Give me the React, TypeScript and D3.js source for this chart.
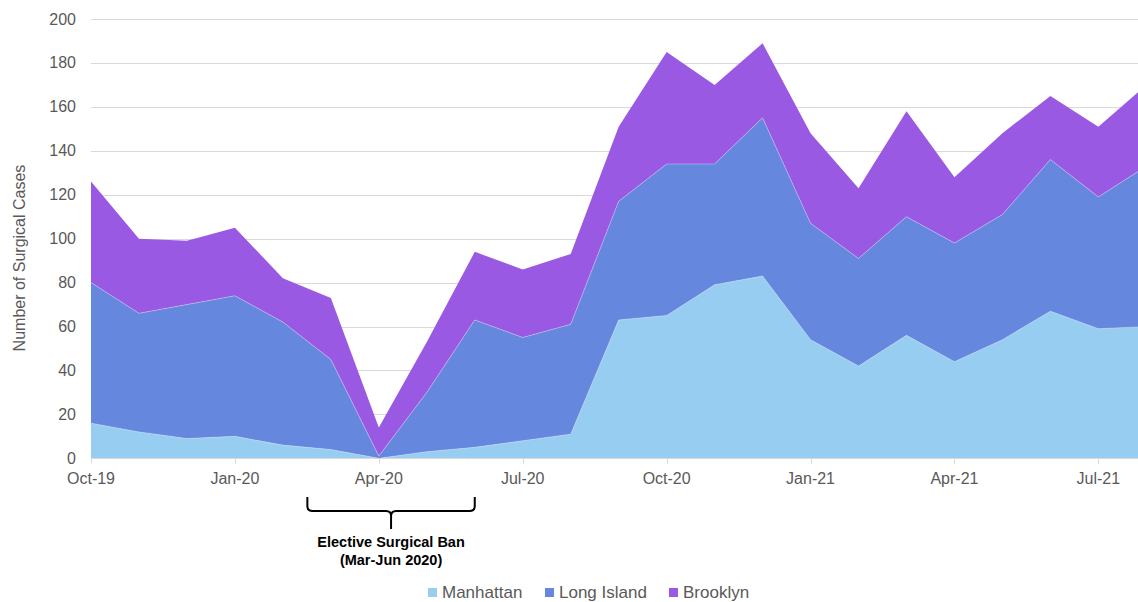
import { useEffect, useRef } from 'react';
import * as d3 from 'd3';

const months = [
  'Oct-19', 'Nov-19', 'Dec-19', 'Jan-20', 'Feb-20', 'Mar-20', 'Apr-20', 'May-20',
  'Jun-20', 'Jul-20', 'Aug-20', 'Sep-20', 'Oct-20', 'Nov-20', 'Dec-20', 'Jan-21',
  'Feb-21', 'Mar-21', 'Apr-21', 'May-21', 'Jun-21', 'Jul-21', 'Aug-21',
];
const manhattan = [16, 12, 9, 10, 6, 4, 0, 3, 5, 8, 11, 63, 65, 79, 83, 54, 42, 56, 44, 54, 67, 59, 60];
const longIsland = [64, 54, 61, 64, 56, 41, 1, 27, 58, 47, 50, 54, 69, 55, 72, 53, 49, 54, 54, 57, 69, 60, 73];
const brooklyn = [46, 34, 29, 31, 20, 28, 13, 23, 31, 31, 32, 34, 51, 36, 34, 41, 32, 48, 30, 37, 29, 32, 37];
const seriesNames = ['Manhattan', 'Long Island', 'Brooklyn'];
const seriesColors = ['#97cdf1', '#6587de', '#9a59e3'];
const yTicks = [0, 20, 40, 60, 80, 100, 120, 140, 160, 180, 200];

const W = 1138;
const H = 602;
const FONT = '"Liberation Sans", Arial, sans-serif';

export default function App() {
  const svgRef = useRef<SVGSVGElement>(null);

  useEffect(() => {
    if (!svgRef.current) return;
    const svg = d3.select(svgRef.current);
    svg.selectAll('*').remove();

    const left = 91;
    const step = 47.97;
    const x = d3.scaleLinear().domain([0, months.length - 1]).range([left, left + step * (months.length - 1)]);
    const y = d3.scaleLinear().domain([0, 200]).range([458.3, 19]);

    const rows = months.map((m, i) => ({
      i,
      Manhattan: manhattan[i],
      'Long Island': longIsland[i],
      Brooklyn: brooklyn[i],
    }));
    const stacked = d3.stack<any>().keys(seriesNames)(rows);

    // grid lines
    svg
      .append('g')
      .selectAll('line')
      .data(yTicks.slice(1))
      .join('line')
      .attr('x1', left)
      .attr('x2', W)
      .attr('y1', (d) => Math.round(y(d)) + 0.5)
      .attr('y2', (d) => Math.round(y(d)) + 0.5)
      .attr('stroke', '#d9d9d9')
      .attr('stroke-width', 1);

    const area = d3
      .area<any>()
      .x((d) => x(d.data.i))
      .y0((d) => y(d[0]))
      .y1((d) => y(d[1]));

    svg
      .append('g')
      .selectAll('path')
      .data(stacked)
      .join('path')
      .attr('d', area)
      .attr('fill', (_, i) => seriesColors[i]);

    // thin light edge on each layer top
    const edge = d3
      .line<any>()
      .x((d) => x(d.data.i))
      .y((d) => y(d[1]));
    svg
      .append('g')
      .selectAll('path')
      .data(stacked.slice(0, 2))
      .join('path')
      .attr('d', edge)
      .attr('fill', 'none')
      .attr('stroke', '#ffffff')
      .attr('stroke-opacity', 0.5)
      .attr('stroke-width', 0.6);

    // x axis
    const xAxis = svg.append('g').attr('transform', `translate(0,${Math.round(y(0)) + 0.5})`);
    xAxis
      .append('line')
      .attr('x1', left)
      .attr('x2', W)
      .attr('stroke', '#d9d9d9')
      .attr('stroke-width', 1);
    const tickIdx = months.map((_, i) => i).filter((i) => i % 3 === 0);
    xAxis
      .selectAll('line.tick')
      .data(tickIdx)
      .join('line')
      .attr('class', 'tick')
      .attr('x1', (d) => Math.round(x(d)) + 0.5)
      .attr('x2', (d) => Math.round(x(d)) + 0.5)
      .attr('y1', 0)
      .attr('y2', 5)
      .attr('stroke', '#d9d9d9');
    xAxis
      .selectAll('text')
      .data(tickIdx)
      .join('text')
      .attr('x', (d) => x(d))
      .attr('y', 25)
      .attr('text-anchor', 'middle')
      .attr('font-family', FONT)
      .attr('font-size', 16)
      .attr('fill', '#595959')
      .text((d) => months[d]);

    // y axis labels
    svg
      .append('g')
      .selectAll('text')
      .data(yTicks)
      .join('text')
      .attr('x', 76)
      .attr('y', (d) => y(d) + 5.5)
      .attr('text-anchor', 'end')
      .attr('font-family', FONT)
      .attr('font-size', 16)
      .attr('fill', '#595959')
      .text((d) => d);

    svg
      .append('text')
      .attr('transform', `translate(25,258) rotate(-90)`)
      .attr('text-anchor', 'middle')
      .attr('font-family', FONT)
      .attr('font-size', 16)
      .attr('fill', '#595959')
      .text('Number of Surgical Cases');

    // elective ban bracket
    const x0 = x(4.5) + 0.5;
    const x1 = x(8);
    const xm = (x0 + x1) / 2;
    const yt = 497;
    const yh = 511;
    const yp = 529;
    const r = 5;
    svg
      .append('path')
      .attr(
        'd',
        `M${x0},${yt} L${x0},${yh - r} Q${x0},${yh} ${x0 + r},${yh} L${xm - r},${yh} Q${xm},${yh} ${xm},${yh + r} L${xm},${yp} ` +
          `M${xm},${yh + r} Q${xm},${yh} ${xm + r},${yh} L${x1 - r},${yh} Q${x1},${yh} ${x1},${yh - r} L${x1},${yt}`
      )
      .attr('fill', 'none')
      .attr('stroke', '#000')
      .attr('stroke-width', 2);

    const note = svg
      .append('text')
      .attr('text-anchor', 'middle')
      .attr('font-family', FONT)
      .attr('font-size', 14.5)
      .attr('font-weight', 'bold')
      .attr('fill', '#000');
    note.append('tspan').attr('x', xm).attr('y', 547).text('Elective Surgical Ban');
    note.append('tspan').attr('x', xm).attr('y', 565).text('(Mar-Jun 2020)');

    // legend
    const legendX = [428, 545, 669];
    const legend = svg
      .append('g')
      .selectAll('g')
      .data(seriesNames)
      .join('g')
      .attr('transform', (_, i) => `translate(${legendX[i]},588)`);
    legend
      .append('rect')
      .attr('width', 9)
      .attr('height', 9)
      .attr('fill', (_, i) => seriesColors[i]);
    legend
      .append('text')
      .attr('x', 14)
      .attr('y', 10)
      .attr('font-family', FONT)
      .attr('font-size', 17)
      .attr('fill', '#595959')
      .text((d) => d);
  }, []);

  return (
    <svg
      ref={svgRef}
      width={W}
      height={H}
      style={{ position: 'absolute', left: 0, top: 0, background: '#fff' }}
    />
  );
}
